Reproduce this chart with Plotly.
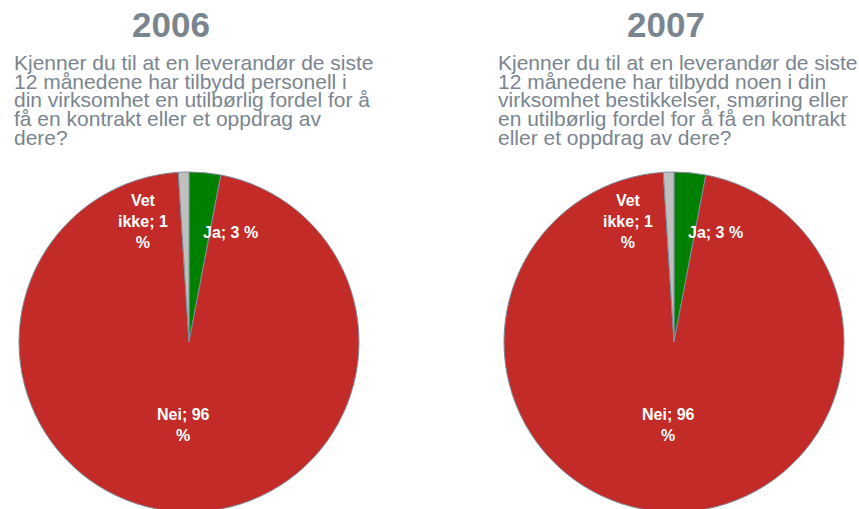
import plotly.graph_objects as go

W, H = 859, 520

years = ["2006", "2007"]
labels = ["Ja", "Nei", "Vet ikke"]
values_2006 = [3, 96, 1]
values_2007 = [3, 96, 1]
colors = ["#008000", "#C22B27", "#C0C0C0"]
questions = [
    ["Kjenner du til at en leverandør de siste",
     "12 månedene har tilbydd personell i",
     "din virksomhet en utilbørlig fordel for å",
     "få en kontrakt eller et oppdrag av",
     "dere?"],
    ["Kjenner du til at en leverandør de siste",
     "12 månedene har tilbydd noen i din",
     "virksomhet bestikkelser, smøring eller",
     "en utilbørlig fordel for å få en kontrakt",
     "eller et oppdrag av dere?"],
]
label_texts = ["Ja; {} %", "Nei; {}<br>%", "Vet<br>ikke; {}<br>%"]

GRAY = "#7A858F"
FONT = "Liberation Sans, Arial, sans-serif"

def px(x, y):
    return x / W, 1 - y / H

fig = go.Figure()

pie_cx = [189, 674]
pie_cy = 342
R = 170
title_cx = [171, 666]
sub_x = [12, 496]
sub_y = [62, 81, 100, 119, 138]
label_off = [(41, 233 - pie_cy), (-6, 425 - pie_cy), (-46, 221 - pie_cy)]

for i, vals in enumerate([values_2006, values_2007]):
    cx = pie_cx[i]
    x0, y0 = px(cx - R, pie_cy + R)
    x1, y1 = px(cx + R, pie_cy - R)
    fig.add_trace(go.Pie(
        labels=labels, values=vals, sort=False, direction="clockwise",
        rotation=0, textinfo="none", hoverinfo="label+percent",
        marker=dict(colors=colors, line=dict(color="#7F8C99", width=1)),
        domain=dict(x=[x0, x1], y=[y0, y1]),
        showlegend=False,
    ))
    tx, ty = px(title_cx[i], 24)
    fig.add_annotation(x=tx, y=ty, xref="paper", yref="paper", text="<b>" + years[i] + "</b>",
                       showarrow=False, font=dict(family=FONT, size=35, color=GRAY),
                       xanchor="center", yanchor="middle")
    for j, line in enumerate(questions[i]):
        lx, ly = px(sub_x[i], sub_y[j])
        fig.add_annotation(x=lx, y=ly, xref="paper", yref="paper", text=line,
                           showarrow=False, font=dict(family=FONT, size=21, color=GRAY),
                           xanchor="left", yanchor="middle")
    for k, v in enumerate(vals):
        ox, oy = label_off[k]
        ax, ay = px(cx + ox, pie_cy + oy)
        fig.add_annotation(x=ax, y=ay, xref="paper", yref="paper",
                           text="<b>" + label_texts[k].format(v) + "</b>",
                           showarrow=False, font=dict(family=FONT, size=16, color="white"),
                           xanchor="center", yanchor="middle", align="center")

fig.update_layout(
    width=W, height=H, margin=dict(l=0, r=0, t=0, b=0),
    paper_bgcolor="white", plot_bgcolor="white",
)

fig.write_html("out.html", config={"displayModeBar": False},
               post_script="document.body.style.margin='0';document.body.style.overflow='hidden';")
